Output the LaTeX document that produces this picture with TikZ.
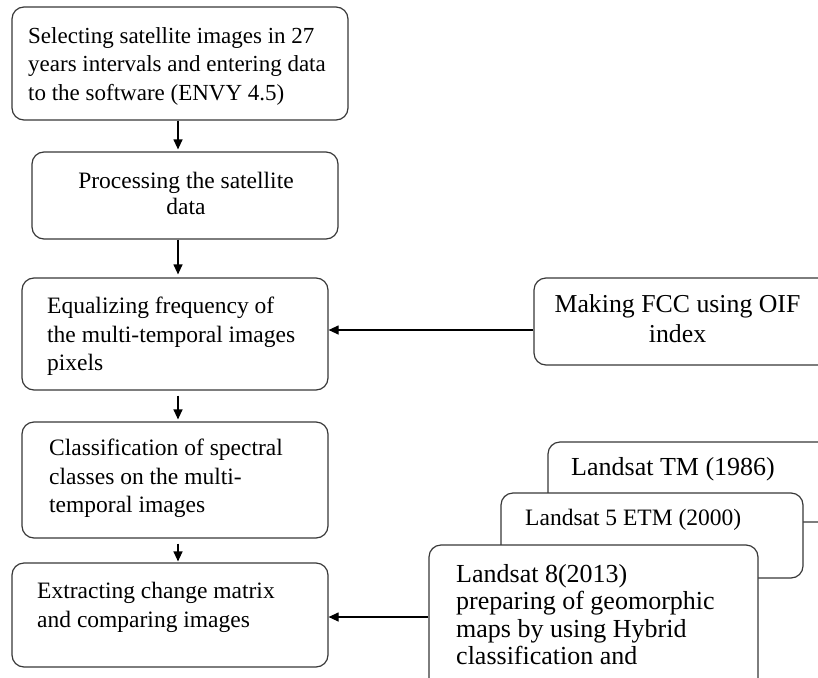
\documentclass[tikz,border=0pt]{standalone}
\usepackage{fontspec}
\setmainfont{Liberation Serif}
\usetikzlibrary{arrows.meta}
\begin{document}
\begin{tikzpicture}[x=1pt,y=-1pt,
  box/.style={draw=black!78,line width=1.2pt,rounded corners=12pt,fill=white,inner sep=0pt},
  txt/.style={inner sep=0pt,font=\fontsize{23.5}{28.5}\selectfont,text=black},
  big/.style={inner sep=0pt,text=black},
  arr/.style={draw=black,line width=1.2pt,-{Triangle[length=10pt,width=9pt]}}]
\useasboundingbox (0,0) rectangle (818,677);
\clip (0,0) rectangle (818,677);
% left column boxes
\node[box,minimum width=336pt,minimum height=113pt] (b1) at (180,63.5) {};
\node[box,minimum width=306pt,minimum height=87pt] (b2) at (185,195.5) {};
\node[box,minimum width=306pt,minimum height=112pt] (b3) at (175,334) {};
\node[box,minimum width=306pt,minimum height=116pt] (b4) at (175,480) {};
\node[box,minimum width=316pt,minimum height=104pt] (b5) at (170,615) {};
% right boxes
\node[box,minimum width=306pt,minimum height=87pt] (fcc) at (687,321.5) {};
\node[box,minimum width=312pt,minimum height=80pt] (tm) at (704,482) {};
\node[box,minimum width=302pt,minimum height=85pt] (l5) at (652,535.5) {};
\node[box,minimum width=329pt,minimum height=155pt] (l8) at (593.5,622.5) {};
% texts
\node[txt,anchor=north west,align=left,font=\fontsize{23}{28.5}\selectfont] (t1) at (28,27) {Selecting satellite images in 27\\years intervals and entering data\\to the software (ENVY 4.5)};
\node[txt,anchor=north,align=center,font=\fontsize{23.5}{26}\selectfont] (t2) at (186,172) {Processing the satellite\\data};
\node[txt,anchor=north west,align=left] (t3) at (47,297) {Equalizing frequency of\\the multi-temporal images\\pixels};
\node[txt,anchor=north west,align=left] (t4) at (49,439) {Classification of spectral\\classes on the multi-\\temporal images};
\node[txt,anchor=north west,align=left] (t5) at (37,582) {Extracting change matrix\\and comparing images};
\node[big,anchor=north,align=center,font=\fontsize{25.8}{30}\selectfont] (tf) at (677.5,294) {Making FCC using OIF\\index};
\node[big,anchor=base west,font=\fontsize{26}{30}\selectfont] (ttm) at (571,475) {Landsat TM (1986)};
\node[txt,anchor=base west] (tl5) at (525,525) {Landsat 5 ETM (2000)};
\node[big,anchor=north west,align=left,font=\fontsize{26}{27.5}\selectfont] (tl8) at (456,564) {Landsat 8(2013)\\preparing of geomorphic\\maps by using Hybrid\\classification and};
% connectors
\coordinate (ax) at (178,0);
\coordinate (y3) at (0,330);
\coordinate (y5) at (0,617);
\draw[arr] (b1.south -| ax) -- ([yshift=2pt]b2.north -| ax);
\draw[arr] (b2.south -| ax) -- ([yshift=3pt]b3.north -| ax);
\draw[arr] ([yshift=-5pt]b3.south -| ax) -- ([yshift=2pt]b4.north -| ax);
\draw[arr] ([yshift=-5pt]b4.south -| ax) -- ([yshift=1pt]b5.north -| ax);
\draw[arr] (fcc.west |- y3) -- (b3.east |- y3);
\draw[arr] (l8.west |- y5) -- (b5.east |- y5);
\end{tikzpicture}
\end{document}
